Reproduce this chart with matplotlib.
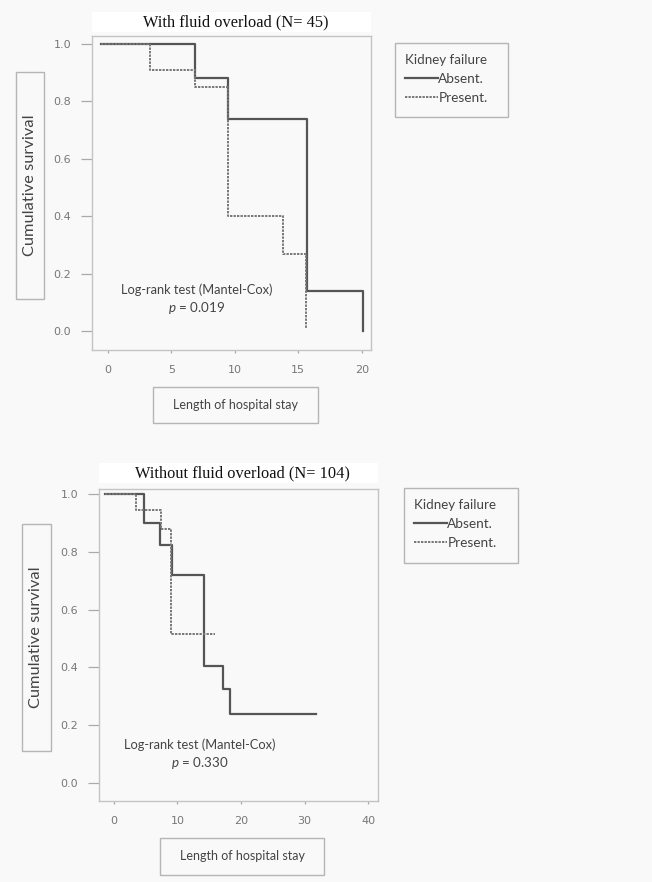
import matplotlib
matplotlib.use("Agg")
import matplotlib.pyplot as plt
from matplotlib.patches import Rectangle

# ---------------- data ----------------
top_title = "With fluid overload (N= 45)"
top_absent_t = [-0.5, 6.9, 9.5, 15.7, 20.1]
top_absent_s = [1.0, 0.88, 0.74, 0.14, 0.0]
top_present_t = [-0.5, 3.3, 6.9, 9.5, 13.8, 15.6]
top_present_s = [1.0, 0.91, 0.85, 0.40, 0.27, 0.01]
top_p = "0.019"
top_xticks = [0, 5, 10, 15, 20]

bot_title = "Without fluid overload (N= 104)"
bot_absent_t = [-1.4, 4.8, 7.2, 9.1, 14.1, 17.1, 18.3, 31.8]
bot_absent_s = [1.0, 0.90, 0.825, 0.72, 0.405, 0.325, 0.237, 0.237]
bot_present_t = [-1.4, 3.5, 7.4, 9.0, 15.9]
bot_present_s = [1.0, 0.946, 0.882, 0.515, 0.515]
bot_p = "0.330"
bot_xticks = [0, 10, 20, 30, 40]

yticks = [0.0, 0.2, 0.4, 0.6, 0.8, 1.0]
ytick_labels = ["0.0", "0.2", "0.4", "0.6", "0.8", "1.0"]
legend_title = "Kidney failure"
legend_labels = ["Absent.", "Present."]
xlabel = "Length of hospital stay"
ylabel = "Cumulative survival"
test_name = "Log-rank test (Mantel-Cox)"

# ---------------- style ----------------
W, H = 652, 882
BG = "#f9f9f9"
SANS = "Lato"
plt.rcParams["mathtext.fontset"] = "custom"
plt.rcParams["mathtext.it"] = "Lato:italic"
plt.rcParams["mathtext.rm"] = "Lato"

fig = plt.figure(figsize=(W / 100, H / 100), dpi=100, facecolor=BG)


def fx(px):
    return px / W


def fy(py):
    return 1 - py / H


def box(x0, y0, x1, y1):
    fig.add_artist(Rectangle((fx(x0), fy(y1)), fx(x1) - fx(x0), fy(y0) - fy(y1),
                             transform=fig.transFigure, fill=False,
                             edgecolor="#b5b5b5", lw=1.0))


def panel(rect_px, xlim, ylim, xticks, abs_t, abs_s, pre_t, pre_s, title,
          title_y, text_xy, pval, ylab_box, xlab_box, leg_box):
    l, t, r, b = rect_px
    ax = fig.add_axes([fx(l), fy(b), fx(r) - fx(l), fy(t) - fy(b)])
    ax.set_facecolor(BG)
    ax.set_xlim(*xlim)
    ax.set_ylim(*ylim)
    for s in ax.spines.values():
        s.set_color("#c4c4c4")
        s.set_linewidth(1.0)
    ax.set_yticks(yticks)
    ax.set_yticklabels(ytick_labels)
    ax.set_xticks(xticks)
    ax.set_xticklabels([str(v) for v in xticks])
    ax.tick_params(axis="y", direction="out", length=8, width=0.9, color="#aaaaaa",
                   labelsize=8, labelcolor="#777777", pad=7)
    ax.tick_params(axis="x", direction="out", length=2, width=0.9, color="#aaaaaa",
                   labelsize=8, labelcolor="#777777", pad=9)
    for lab in ax.get_xticklabels() + ax.get_yticklabels():
        lab.set_family("DejaVu Sans")
    la, = ax.step(abs_t, abs_s, where="post", color="#555555", lw=1.6,
                  label=legend_labels[0])
    lp, = ax.step(pre_t, pre_s, where="post", color="#777777", lw=1.4,
                  linestyle=(0, (1.2, 0.6)), label=legend_labels[1])
    ax.text(text_xy[0], text_xy[1], test_name, ha="center", va="center",
            fontsize=9.3, family=SANS, color="#444444")
    ax.text(text_xy[0], text_xy[1] - 0.063, r"$p$ = " + pval, ha="center",
            va="center", fontsize=9.6, family=SANS, color="#444444")
    # title with white background
    fig.add_artist(Rectangle((fx(l), fy(title_y + 10)), fx(r) - fx(l),
                             fy(title_y - 10) - fy(title_y + 10),
                             transform=fig.transFigure, facecolor="white",
                             edgecolor="none"))
    fig.text(fx((l + r) / 2 + 4), fy(title_y), title, ha="center", va="center",
             fontsize=11.8, family="Liberation Serif", color="#111111")
    # y label box
    x0, y0, x1, y1 = ylab_box
    box(x0, y0, x1, y1)
    fig.text(fx((x0 + x1) / 2), fy((y0 + y1) / 2), ylabel, rotation=90,
             ha="center", va="center", fontsize=11.8, family=SANS, color="#444444")
    # x label box
    x0, y0, x1, y1 = xlab_box
    box(x0, y0, x1, y1)
    fig.text(fx((x0 + x1) / 2), fy((y0 + y1) / 2), xlabel,
             ha="center", va="center", fontsize=9.0, family=SANS, color="#444444")
    # legend (manual frame + library legend inside)
    x0, y0, x1, y1 = leg_box
    box(x0, y0, x1, y1)
    leg = fig.legend(handles=[la, lp], labels=legend_labels, title=legend_title,
                     loc="upper left", bbox_to_anchor=(fx(x0 + 6), fy(y0 + 7)),
                     frameon=False, title_fontsize=9.6,
                     handlelength=2.4, handletextpad=0.05, labelspacing=0.5,
                     borderpad=0.3, borderaxespad=0, alignment="left",
                     prop={"family": SANS, "size": 9.8})
    leg.get_title().set_family(SANS)
    leg.get_title().set_color("#444444")
    for ttxt in leg.get_texts():
        ttxt.set_color("#444444")
    return ax


panel((92, 36, 371, 350), (-1.24, 20.73), (-0.066, 1.028), top_xticks,
      top_absent_t, top_absent_s, top_present_t, top_present_s, top_title,
      22, (7.0, 0.143), top_p, (16, 72, 44, 299), (153, 387, 318, 423),
      (395, 43, 508, 117))

panel((99, 489, 378, 801), (-2.36, 41.57), (-0.063, 1.019), bot_xticks,
      bot_absent_t, bot_absent_s, bot_present_t, bot_present_s, bot_title,
      473, (13.5, 0.133), bot_p, (22, 524, 51, 751), (160, 838, 324, 875),
      (404, 488, 518, 563))

fig.savefig("out.png", dpi=100, facecolor=BG)
